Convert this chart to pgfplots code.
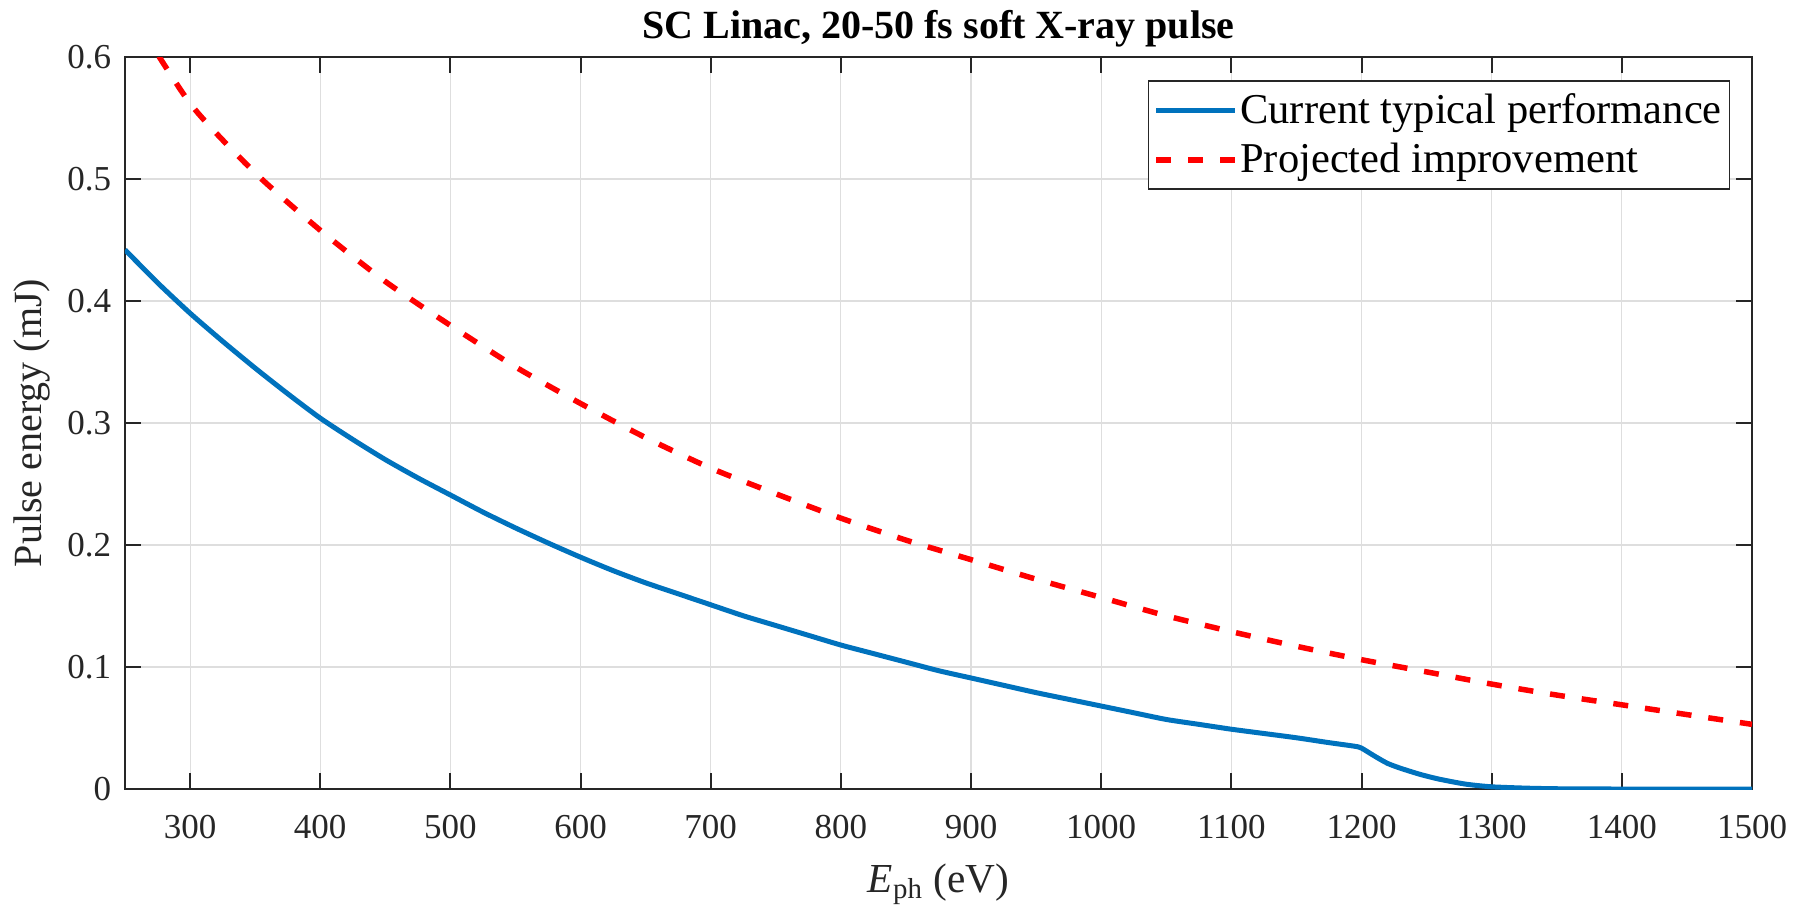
\documentclass[border=0pt]{standalone}
\usepackage{fontspec}
\setmainfont{Liberation Serif}
\usepackage{pgfplots}
\pgfplotsset{compat=1.18}
\definecolor{mblue}{RGB}{0,114,189}
\definecolor{axgray}{RGB}{38,38,38}
\definecolor{gridgray}{RGB}{222,222,222}

\begin{document}
\begin{tikzpicture}
\useasboundingbox (-50pt,-49.2pt) rectangle (670.4pt,315.6pt);
\begin{axis}[
  width=650.8pt, height=292.8pt, scale only axis,
  xmin=250, xmax=1500, ymin=0, ymax=0.6,
  xtick={300,400,...,1500},
  ytick={0,0.1,0.2,0.3,0.4,0.5,0.6},
  /pgf/number format/assume math mode=true,
  /pgf/number format/1000 sep={},
  tick label style={font=\fontsize{14}{16}\selectfont, text=axgray},
  xticklabel style={yshift=-7pt},
  yticklabel style={xshift=-2pt},
  axis line style={axgray, line width=0.8pt},
  tick style={axgray, line width=0.8pt},
  major tick length=6.5pt,
  grid=major,
  major grid style={gridgray, line width=0.45pt},
  title={\bfseries SC Linac, 20-50 fs soft X-ray pulse},
  title style={font=\fontsize{16}{18}\selectfont, anchor=base, yshift=1.6pt},
  xlabel={\textit{E}\textsubscript{ph} (eV)},
  xlabel style={font=\fontsize{16.5}{19}\selectfont, text=axgray, at={(axis description cs:0.5,-0.13)}, anchor=center},
  ylabel={Pulse energy (mJ)},
  ylabel style={font=\fontsize{16}{18}\selectfont, text=axgray, at={(axis description cs:-0.0572,0.5)}, anchor=center},
  legend style={at={(1,1)}, anchor=north east, xshift=-8.8pt, yshift=-9.2pt,
    draw=axgray, line width=0.6pt, font=\fontsize{17}{19}\selectfont,
    inner xsep=2pt, inner ysep=3pt, row sep=2.6pt,
    nodes={inner xsep=1pt}},
  legend cell align=left,
  legend image code/.code={\draw[#1] (0pt,0pt) -- (31.6pt,0pt);},
]
\addplot[mblue, line width=2pt, smooth, tension=0.4] coordinates {
  (250,0.442) (275,0.415) (300,0.390) (325,0.367) (350,0.345)
  (375,0.324) (400,0.304) (425,0.2865) (450,0.270) (475,0.255)
  (500,0.241) (525,0.227) (550,0.214) (575,0.2017) (600,0.190)
  (625,0.179) (650,0.169) (675,0.160) (700,0.151) (725,0.142)
  (750,0.134) (775,0.126) (800,0.118) (825,0.111) (850,0.104)
  (875,0.097) (900,0.091) (925,0.085) (950,0.079) (975,0.0735)
  (1000,0.068) (1025,0.0625) (1050,0.057) (1075,0.053) (1100,0.049)
  (1125,0.0455) (1150,0.042) (1175,0.038) (1195,0.035)
  (1200,0.0335) (1210,0.027) (1220,0.021) (1230,0.017) (1245,0.012)
  (1260,0.008) (1280,0.004) (1300,0.0018) (1330,0.0006) (1360,0.0001)
  (1400,0) (1500,0)
};
\addlegendentry{Current typical performance}
\addplot[red, line width=2.2pt, dash pattern=on 6pt off 6.8pt, smooth, tension=0.4] coordinates {
  (250,0.645) (300,0.562) (350,0.505) (400,0.458) (450,0.416)
  (500,0.380) (550,0.346) (600,0.316) (650,0.288) (700,0.263)
  (750,0.242) (800,0.222) (850,0.204) (900,0.188) (950,0.172)
  (1000,0.157) (1050,0.142) (1100,0.129) (1150,0.117) (1200,0.106)
  (1250,0.096) (1300,0.086) (1350,0.077) (1400,0.069) (1450,0.061)
  (1500,0.053)
};
\addlegendentry{Projected improvement}
\end{axis}
\end{tikzpicture}
\end{document}
